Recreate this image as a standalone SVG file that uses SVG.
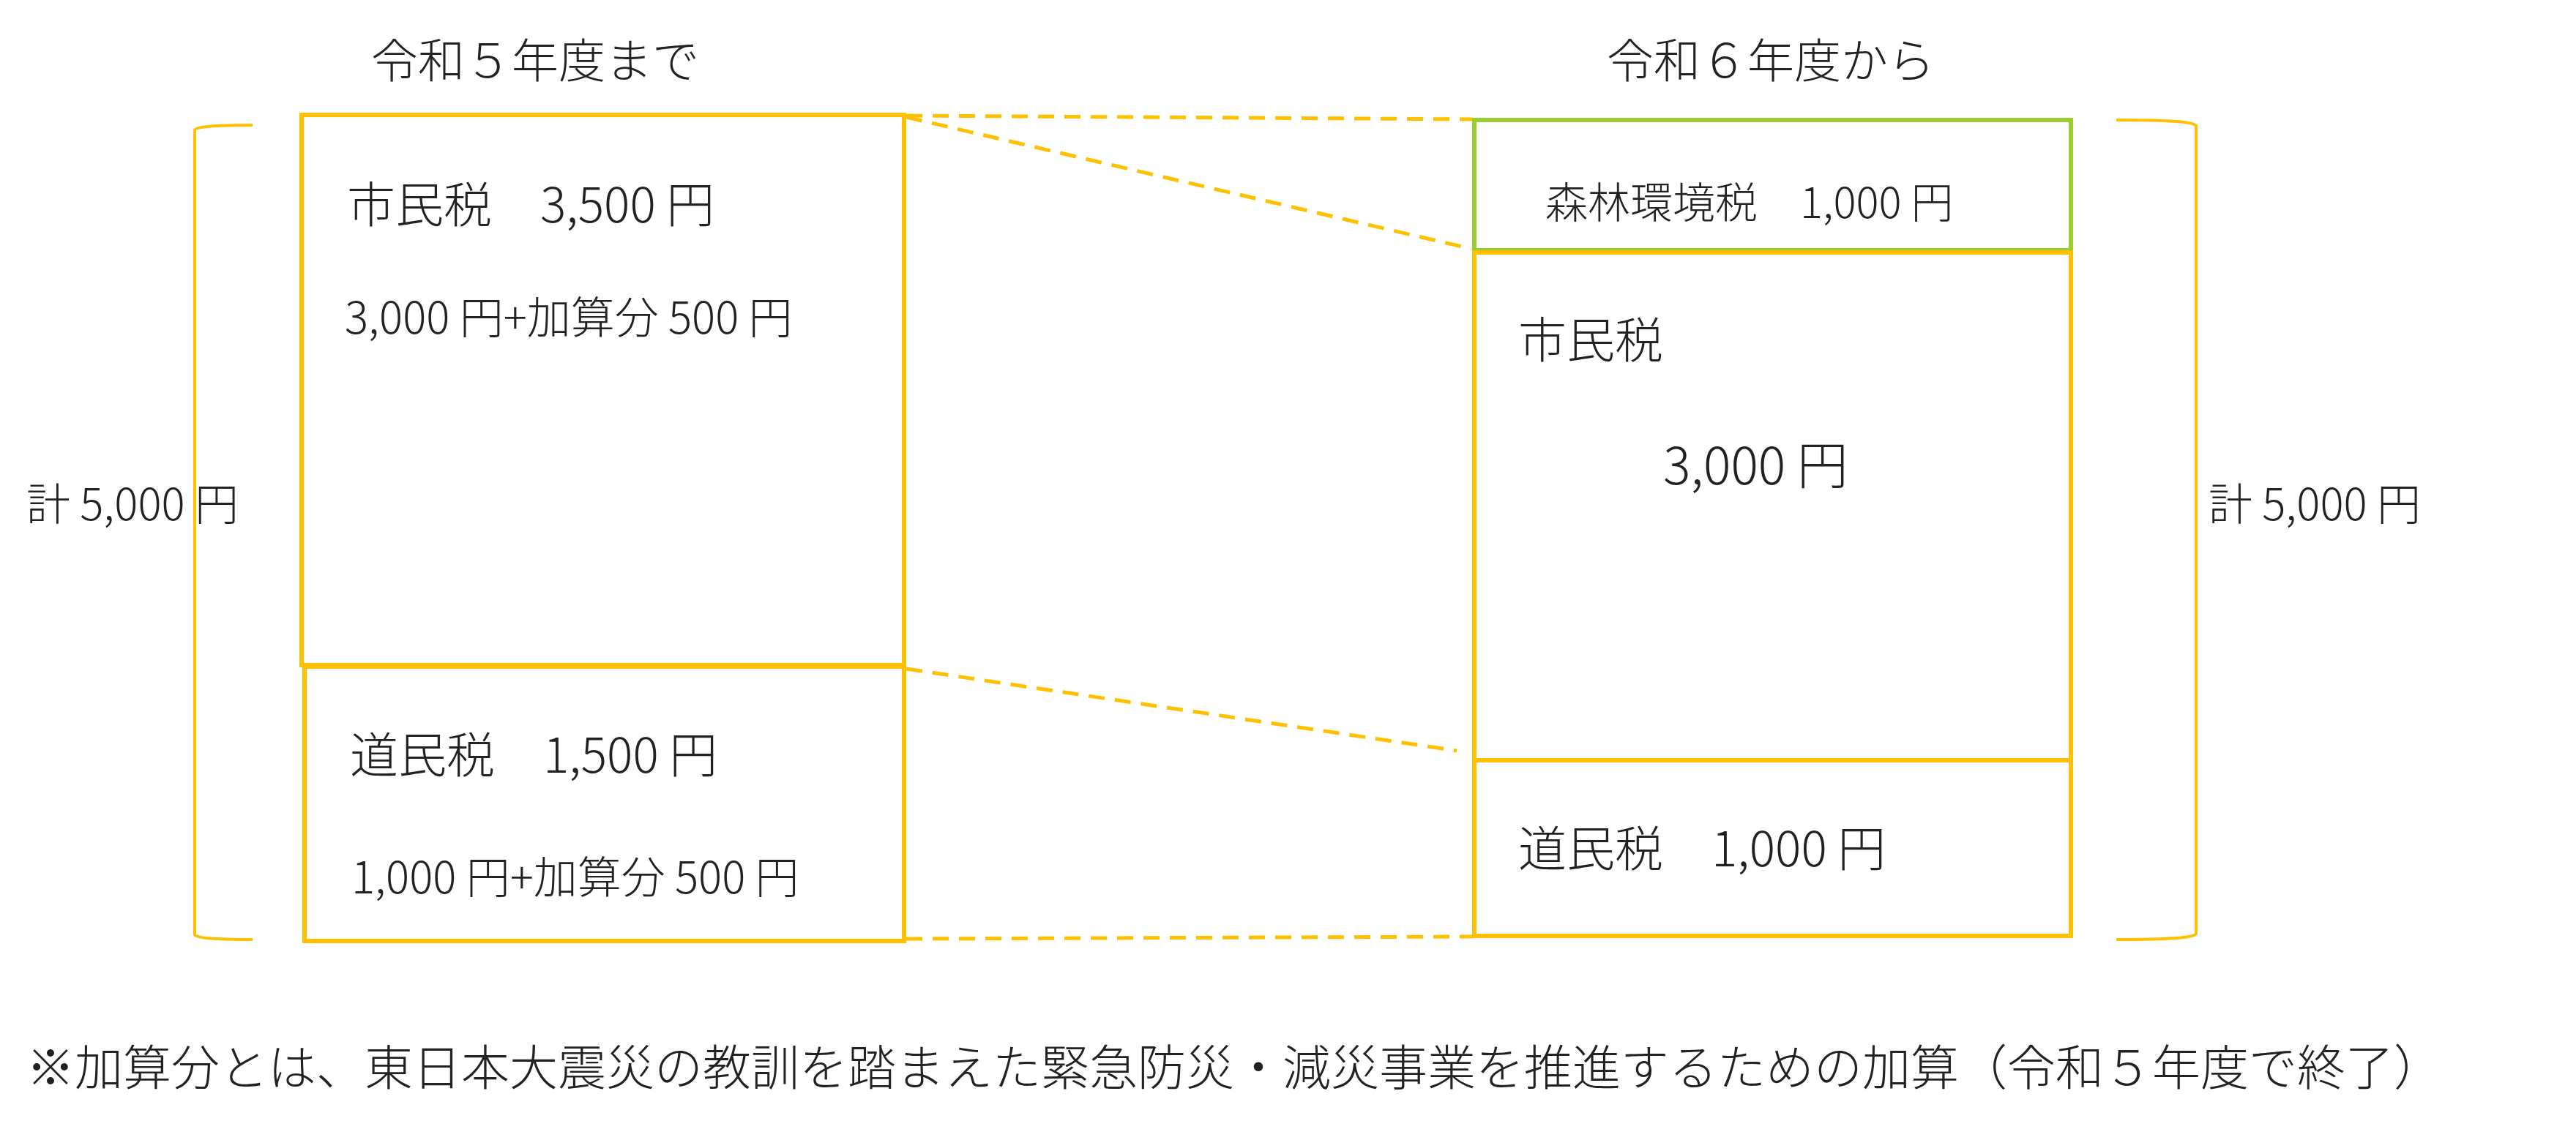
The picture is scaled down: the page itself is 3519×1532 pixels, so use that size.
<svg xmlns="http://www.w3.org/2000/svg" width="3519" height="1532" viewBox="0 0 3519 1532">
<style>
text{font-family:"Noto Sans CJK JP","Noto Sans",sans-serif;fill:#222;font-weight:300}
.box{fill:none;stroke:#FFC000;stroke-width:6}
.br{fill:none;stroke:#FFC000;stroke-width:4}
.dash{fill:none;stroke:#FFC000;stroke-width:5;stroke-dasharray:22 14}
</style>
<rect width="3519" height="1532" fill="#fff"/>
<g id="connectors">
<line class="dash" x1="1238" y1="158" x2="2012" y2="163"/>
<line class="dash" x1="1238" y1="160" x2="2010" y2="340"/>
<line class="dash" x1="1238" y1="914" x2="1990" y2="1026"/>
<line class="dash" x1="1238" y1="1283" x2="2012" y2="1280"/>
</g>
<g id="title-left"><text x="507" y="106" font-size="64">令和５年度まで</text></g>
<g id="title-right"><text x="2195" y="106" font-size="64">令和６年度から</text></g>
<g id="bracket-left"><path class="br" d="M345 171 Q266 171 266 178 L266 1277 Q266 1284 345 1284"/><text x="36" y="711" font-size="60">計 5,000 円</text></g>
<g id="bracket-right"><path class="br" d="M2891 164 Q3000 164 3000 172 L3000 1276 Q3000 1284 2891 1284"/><text x="3017" y="711" font-size="60">計 5,000 円</text></g>
<g id="old-city"><rect class="box" x="412" y="157" width="823" height="752"/>
<text x="474" y="304" font-size="66">市民税　3,500 円</text>
<text x="471" y="456" font-size="60">3,000 円+加算分 500 円</text></g>
<g id="old-pref"><rect class="box" x="416" y="911" width="819" height="375"/>
<text x="478" y="1056" font-size="66">道民税　1,500 円</text>
<text x="480" y="1221" font-size="60">1,000 円+加算分 500 円</text></g>
<g id="forest"><rect x="2014" y="164" width="815" height="178" fill="none" stroke="#9ACD32" stroke-width="6"/>
<text x="2111" y="298" font-size="58">森林環境税　1,000 円</text></g>
<g id="new-city"><rect class="box" x="2014" y="345" width="815" height="694"/>
<text x="2074" y="489" font-size="66">市民税</text>
<text x="2272" y="662" font-size="70">3,000 円</text></g>
<g id="new-pref"><rect class="box" x="2014" y="1039" width="815" height="240"/>
<text x="2074" y="1184" font-size="66">道民税　1,000 円</text></g>
<g id="note"><text x="36" y="1483" font-size="66">※加算分とは、東日本大震災の教訓を踏まえた緊急防災・減災事業を推進するための加算（令和５年度で終了）</text></g>
</svg>
